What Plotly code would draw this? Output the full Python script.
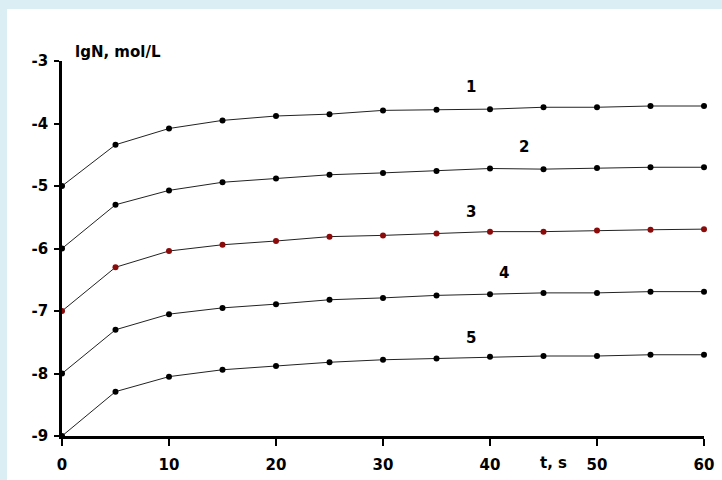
import plotly.graph_objects as go

# time, s
t = [0, 5, 10, 15, 20, 25, 30, 35, 40, 45, 50, 55, 60]

# lgN, mol/L for the five series
curve1 = [-5.00, -4.34, -4.08, -3.95, -3.88, -3.85, -3.79, -3.78, -3.77, -3.74, -3.74, -3.72, -3.72]
curve2 = [-6.00, -5.30, -5.07, -4.94, -4.88, -4.82, -4.79, -4.76, -4.72, -4.73, -4.71, -4.70, -4.70]
curve3 = [-7.00, -6.30, -6.04, -5.94, -5.88, -5.81, -5.79, -5.76, -5.73, -5.73, -5.71, -5.70, -5.69]
curve4 = [-8.00, -7.30, -7.05, -6.95, -6.89, -6.82, -6.79, -6.75, -6.73, -6.71, -6.71, -6.69, -6.69]
curve5 = [-9.00, -8.29, -8.05, -7.94, -7.88, -7.82, -7.78, -7.76, -7.73, -7.72, -7.72, -7.70, -7.70]

series = [curve1, curve2, curve3, curve4, curve5]
marker_colors = ["#000000", "#000000", "#8b0a0a", "#000000", "#000000"]

# curve number labels: (text, t, lgN)
labels = [("1", 38.2, -3.41), ("2", 43.2, -4.38), ("3", 38.2, -5.41),
          ("4", 41.3, -6.39), ("5", 38.2, -7.43)]

x_ticks = [0, 10, 20, 30, 40, 50, 60]
y_ticks = [-9, -8, -7, -6, -5, -4, -3]
y_tick_text = ["-9", "-8", "-7", "-6", "-5", "-4", "-3"]

FONT = "DejaVu Sans, Verdana, sans-serif"
BOLD = dict(family=FONT, size=15, color="#000000", weight="bold")

fig = go.Figure()
for ys, mc in zip(series, marker_colors):
    fig.add_trace(go.Scatter(
        x=t, y=ys, mode="lines+markers",
        line=dict(color="#222222", width=1),
        marker=dict(color=mc, size=6),
        showlegend=False, cliponaxis=False,
    ))

for txt, lx, ly in labels:
    fig.add_annotation(x=lx, y=ly, text=txt, showarrow=False, font=BOLD)

fig.add_annotation(xref="paper", yref="paper", x=0.017, y=1.024,
                   xanchor="left", yanchor="middle", showarrow=False,
                   text="lgN, mol/L", font=BOLD)
fig.add_annotation(x=45.9, xref="x", yref="paper", y=0, yshift=-27,
                   yanchor="middle", showarrow=False, text="t, s", font=BOLD)

# light-blue frame around the white panel
fig.add_shape(type="rect", xref="paper", yref="paper",
              x0=-55 / 642, x1=660 / 642, y0=-44 / 375, y1=1 + 52 / 375,
              fillcolor="white", line=dict(width=0), layer="below")

fig.update_xaxes(range=[0, 60], tickvals=x_ticks, showgrid=False, zeroline=False,
                 showline=True, linecolor="#000000", linewidth=2.5,
                 ticks="outside", ticklen=7, tickwidth=2, tickcolor="#000000",
                 ticklabelstandoff=6, tickfont=BOLD, automargin=False)
fig.update_yaxes(range=[-9, -3], tickvals=y_ticks, ticktext=y_tick_text,
                 showgrid=False, zeroline=False,
                 showline=True, linecolor="#000000", linewidth=2.5,
                 ticks="outside", ticklen=5, tickwidth=2, tickcolor="#000000",
                 ticklabelstandoff=3, tickfont=BOLD, automargin=False)

fig.update_layout(
    width=722, height=480,
    margin=dict(l=62, r=18, t=61, b=44),
    paper_bgcolor="#daeef3", plot_bgcolor="rgba(0,0,0,0)",
    font=dict(family=FONT),
)

fig.write_html("out.html")
